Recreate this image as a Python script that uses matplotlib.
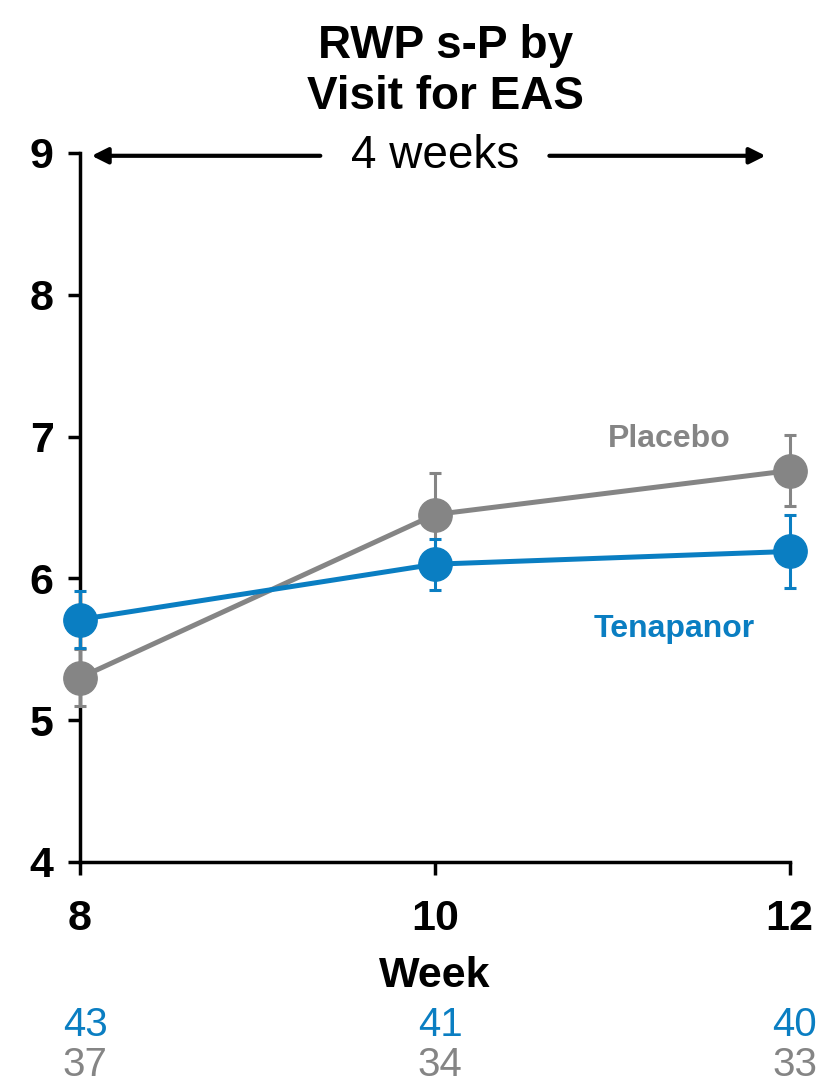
import matplotlib.pyplot as plt

plt.rcParams['font.family'] = ['Liberation Sans', 'DejaVu Sans']

weeks = [8, 10, 12]
tenapanor = [5.71, 6.10, 6.19]
tenapanor_err = [0.20, 0.18, 0.26]
placebo = [5.30, 6.45, 6.76]
placebo_err = [0.20, 0.29, 0.25]
n_tenapanor = [43, 41, 40]
n_placebo = [37, 34, 33]

blue = '#0a7ec2'
gray = '#858585'

fig = plt.figure(figsize=(8.2, 10.84), dpi=100)
ax = fig.add_axes([0.0976, 0.2048, 0.8654, 0.6541])

ax.errorbar(weeks, placebo, yerr=placebo_err, color=gray, lw=3.6, marker='o',
            markersize=24, elinewidth=2.2, capsize=4, capthick=2.2, zorder=3,
            clip_on=False)
ax.errorbar(weeks, tenapanor, yerr=tenapanor_err, color=blue, lw=3.6, marker='o',
            markersize=24, elinewidth=2.2, capsize=4, capthick=2.2, zorder=4,
            clip_on=False)

ax.set_xlim(8, 12)
ax.set_ylim(4, 9)
ax.set_xticks(weeks)
ax.set_yticks([4, 5, 6, 7, 8, 9])
ax.tick_params(axis='both', direction='out', length=9, width=2.5, labelsize=31)
ax.tick_params(axis='x', pad=18)
ax.tick_params(axis='y', pad=10)
for lab in ax.get_xticklabels() + ax.get_yticklabels():
    lab.set_fontweight('bold')
for s in ['top', 'right']:
    ax.spines[s].set_visible(False)
for s in ['left', 'bottom']:
    ax.spines[s].set_linewidth(2.5)

ax.set_xlabel('Week', fontsize=31, fontweight='bold', labelpad=12)

# series labels
ax.text(11.32, 6.98, 'Placebo', color=gray, fontsize=23, fontweight='bold',
        ha='center', va='center')
ax.text(11.35, 5.64, 'Tenapanor', color=blue, fontsize=23, fontweight='bold',
        ha='center', va='center')

# 4-week span arrow
ax.text(10.0, 8.98, '4 weeks', fontsize=33, ha='center', va='center')
ax.annotate('', xy=(8.05, 8.98), xytext=(9.37, 8.98),
            arrowprops=dict(arrowstyle='-|>', lw=3, color='black',
                            mutation_scale=24), annotation_clip=False)
ax.annotate('', xy=(11.88, 8.98), xytext=(10.63, 8.98),
            arrowprops=dict(arrowstyle='-|>', lw=3, color='black',
                            mutation_scale=24), annotation_clip=False)

# patient counts under the axis
for w, a, b in zip(weeks, n_tenapanor, n_placebo):
    ax.text(w + 0.03, 2.85, str(a), color=blue, fontsize=29, ha='center',
            va='center', clip_on=False)
    ax.text(w + 0.03, 2.57, str(b), color=gray, fontsize=29, ha='center',
            va='center', clip_on=False)

fig.text(0.543, 0.934, 'RWP s-P by\nVisit for EAS', fontsize=33,
         fontweight='bold', ha='center', va='center', linespacing=1.2)

fig.savefig('out.png', dpi=100)
